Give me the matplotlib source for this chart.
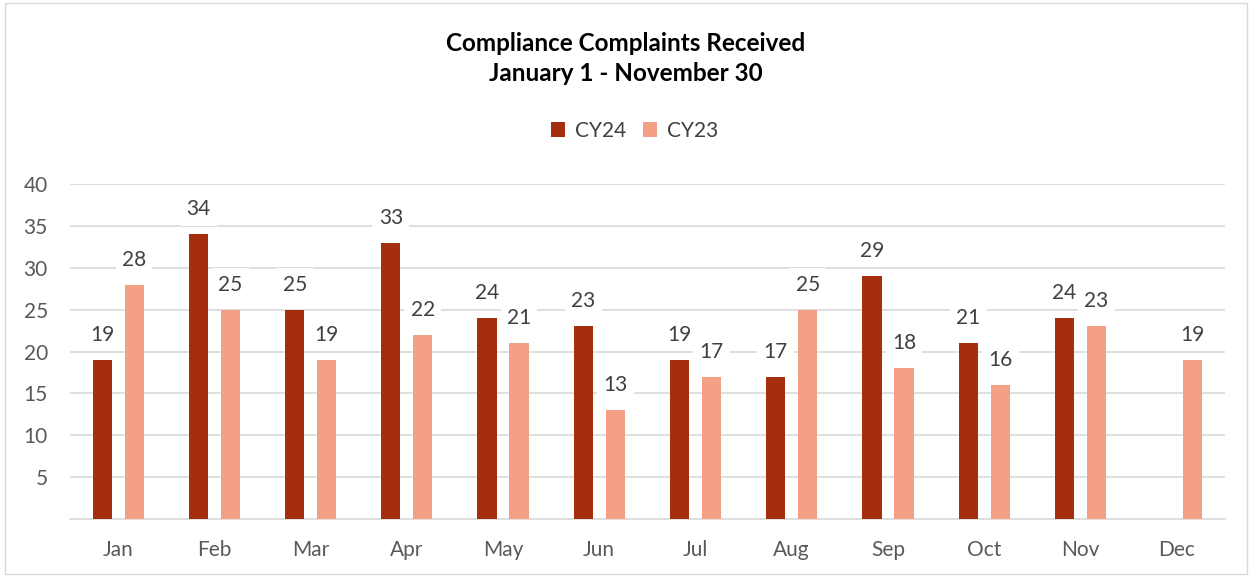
import numpy as np
import matplotlib.pyplot as plt
from matplotlib.patches import Rectangle

months = ["Jan", "Feb", "Mar", "Apr", "May", "Jun", "Jul", "Aug", "Sep", "Oct", "Nov", "Dec"]
cy24 = [19, 34, 25, 33, 24, 23, 19, 17, 29, 21, 24, np.nan]
cy23 = [28, 25, 19, 22, 21, 13, 17, 25, 18, 16, 23, 19]

C24 = "#A52E11"
C23 = "#F4A086"
FONT = ["Lato", "DejaVu Sans"]

plt.rcParams["font.family"] = FONT

fig = plt.figure(figsize=(12.51, 5.77), dpi=100)
fig.patches.append(Rectangle((0.004, 0.005), 0.993, 0.99, transform=fig.transFigure,
                             fill=False, edgecolor="#d9d9d9", linewidth=1.0))
ax = fig.add_axes([0.056, 0.1005, 0.923, 0.5805])

x = np.arange(len(months))
w = 0.2
off = 0.166
ax.bar(x - off, cy24, w, color=C24, label="CY24", zorder=3)
ax.bar(x + off, cy23, w, color=C23, label="CY23", zorder=3)

for xs, vals in ((x - off, cy24), (x + off, cy23)):
    for xi, v in zip(xs, vals):
        if np.isnan(v):
            continue
        ax.annotate(f"{int(v)}", (xi, v), xytext=(0, 18), textcoords="offset points",
                    ha="center", va="center", fontsize=15, color="#404040", zorder=4,
                    bbox=dict(boxstyle="square,pad=0.3", fc="white", ec="none"))

ax.set_xlim(-0.5, 11.5)
ax.set_ylim(0, 40)
ax.set_yticks(range(5, 41, 5))
ax.yaxis.grid(True, color="#d9d9d9", linewidth=1.2, zorder=0)
ax.set_xticks(x)
ax.set_xticklabels(months)
ax.tick_params(axis="both", length=0, labelsize=15, labelcolor="#595959")
ax.tick_params(axis="x", pad=15)
ax.tick_params(axis="y", pad=16)
for s in ("top", "right", "left"):
    ax.spines[s].set_visible(False)
ax.spines["bottom"].set_color("#d9d9d9")
ax.spines["bottom"].set_linewidth(1.2)

fig.text(0.5, 0.898, "Compliance Complaints Received\nJanuary 1 - November 30",
         ha="center", va="center", fontsize=17.5, fontweight="bold", linespacing=1.38)
fig.legend(loc="center", bbox_to_anchor=(0.507, 0.773), ncol=2, frameon=False,
           fontsize=15, handlelength=0.7, handleheight=0.7, handletextpad=0.45,
           columnspacing=0.8, labelcolor="#404040")

fig.savefig("out.png", dpi=100)
